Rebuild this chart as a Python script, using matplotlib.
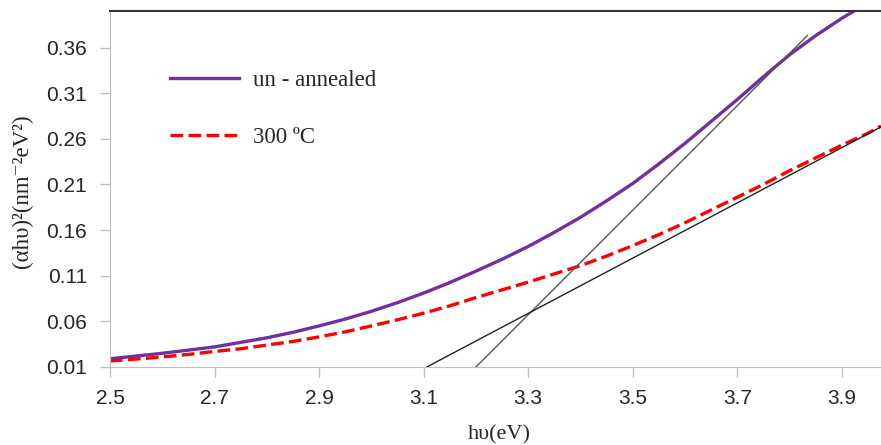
import matplotlib.pyplot as plt

# photon energy (eV)
hv = [2.5, 2.55, 2.6, 2.65, 2.7, 2.75, 2.8, 2.85, 2.9, 2.95,
      3.0, 3.05, 3.1, 3.15, 3.2, 3.25, 3.3, 3.35, 3.4, 3.45,
      3.5, 3.55, 3.6, 3.65, 3.7, 3.75, 3.8, 3.85, 3.9, 3.95, 3.975]

# (alpha h nu)^2
unannealed = [0.019, 0.022, 0.025, 0.0285, 0.032, 0.037, 0.042, 0.048, 0.055, 0.0625,
              0.071, 0.0805, 0.091, 0.1025, 0.115, 0.128, 0.142, 0.1575, 0.174, 0.192,
              0.211, 0.2325, 0.255, 0.279, 0.303, 0.328, 0.352, 0.373, 0.392, 0.409, 0.417]
annealed_300 = [0.0166, 0.0187, 0.021, 0.0238, 0.027, 0.030, 0.034, 0.038, 0.043, 0.0485,
                0.055, 0.0617, 0.069, 0.077, 0.086, 0.0945, 0.103, 0.112, 0.121, 0.1315,
                0.143, 0.155, 0.168, 0.182, 0.196, 0.210, 0.225, 0.239, 0.253, 0.266, 0.274]

# tangent (Tauc) lines
tan1_x = [3.2, 3.834]
tan1_y = [0.01, 0.373]
tan2_x = [3.106, 3.975]
tan2_y = [0.01, 0.273]

xticks = [2.5, 2.7, 2.9, 3.1, 3.3, 3.5, 3.7, 3.9]
yticks = [0.01, 0.06, 0.11, 0.16, 0.21, 0.26, 0.31, 0.36]

serif = ['Liberation Serif', 'DejaVu Serif']

fig = plt.figure(figsize=(8.81, 4.45), dpi=100)
ax = fig.add_axes([0.1249, 0.1753, 0.8751, 0.8])

ax.plot(tan1_x, tan1_y, color='#555555', lw=1.0, zorder=3)
ax.plot(tan2_x, tan2_y, color='#222222', lw=1.0, zorder=3)
ax.plot(hv, unannealed, color='#7030A0', lw=2.4, label='un - annealed', zorder=2)
ax.plot(hv, annealed_300, color='#FF0000', lw=2.4, ls='--', dashes=(3.8, 1.6),
        label='300 ºC', zorder=2)

ax.set_xlim(2.5, 3.975)
ax.set_ylim(0.01, 0.40)
ax.set_xticks(xticks)
ax.set_xticklabels([f'{v:.1f}' for v in xticks])
ax.set_yticks(yticks)
ax.set_yticklabels([f'{v:.2f}' for v in yticks])

for lab in ax.get_xticklabels() + ax.get_yticklabels():
    lab.set_family('Liberation Sans')
    lab.set_fontsize(15)
    lab.set_color('#262626')

ax.tick_params(axis='both', direction='out', length=7, width=1, color='#BFBFBF')
ax.tick_params(axis='x', pad=9)
ax.tick_params(axis='y', pad=9.5)

ax.spines['right'].set_visible(False)
ax.spines['left'].set_color('#BFBFBF')
ax.spines['bottom'].set_color('#BFBFBF')
ax.spines['top'].set_color('#333333')
ax.spines['top'].set_linewidth(1.5)

ax.set_xlabel('hυ(eV)', family=serif, fontsize=16, color='#262626')
ax.xaxis.set_label_coords(0.505, -0.165)
ax.set_ylabel('(αhυ)²(nm⁻²eV²)', family=serif, fontsize=16.5, color='#262626')
ax.yaxis.set_label_coords(-0.10, 0.494)

leg = ax.legend(loc='upper left', bbox_to_anchor=(0.078, 0.835), frameon=False,
                borderaxespad=0, borderpad=0, handlelength=3.0, handletextpad=0.6,
                labelspacing=1.6, prop={'family': serif, 'size': 16.5})
for t in leg.get_texts():
    t.set_color('#262626')

fig.savefig('out.png', dpi=100)
